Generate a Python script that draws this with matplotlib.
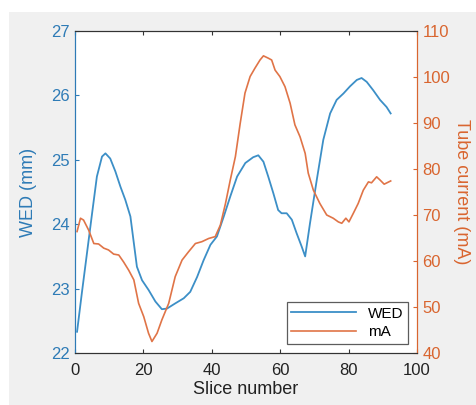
import matplotlib.pyplot as plt
from matplotlib.patches import Rectangle

plt.rcParams['font.family'] = ['Liberation Sans', 'DejaVu Sans']

# water-equivalent diameter per slice
wed_slice = [0.6, 2.0, 3.5, 5.0, 6.4, 7.9, 8.9, 10.3, 11.8, 13.3, 14.7, 16.2, 17.1, 18.1,
             19.6, 21.5, 23.5, 25.4, 26.9, 29.3, 31.8, 33.7, 35.7, 37.6, 39.6, 41.5, 43.5,
             45.4, 47.4, 49.8, 52.1, 53.6, 55.1, 56.5, 58.0, 59.4, 60.4, 61.9, 63.4, 64.8,
             66.3, 67.3, 68.7, 70.7, 72.6, 74.6, 76.5, 78.5, 80.4, 82.4, 83.8, 85.3, 87.2,
             89.2, 91.1, 92.3]
wed_mm = [22.33, 22.93, 23.55, 24.17, 24.74, 25.05, 25.10, 25.02, 24.82, 24.58, 24.38,
          24.12, 23.75, 23.34, 23.13, 22.98, 22.80, 22.68, 22.69, 22.77, 22.85, 22.95,
          23.18, 23.44, 23.68, 23.81, 24.12, 24.43, 24.74, 24.95, 25.04, 25.07, 24.97,
          24.74, 24.48, 24.22, 24.17, 24.17, 24.07, 23.86, 23.65, 23.50, 24.01, 24.69,
          25.31, 25.72, 25.93, 26.03, 26.14, 26.24, 26.27, 26.21, 26.08, 25.93, 25.82,
          25.72]

# tube current per slice
ma_slice = [0.6, 1.6, 2.5, 4.0, 5.5, 6.9, 8.4, 9.8, 11.3, 12.8, 14.2, 15.7, 17.2, 18.6,
            20.1, 21.5, 22.5, 24.0, 25.4, 27.4, 29.3, 31.3, 33.2, 35.2, 37.1, 39.1, 41.0,
            42.5, 44.0, 45.4, 46.9, 48.3, 49.7, 51.2, 52.6, 54.1, 55.1, 56.5, 57.5, 58.5,
            59.9, 61.4, 62.9, 64.3, 65.8, 67.3, 68.2, 69.7, 71.6, 73.6, 75.5, 77.0, 78.0,
            79.2, 80.1, 81.4, 82.8, 84.3, 85.8, 86.7, 88.2, 89.2, 90.4, 92.3]
ma_val = [66.4, 69.3, 68.9, 66.7, 63.8, 63.7, 62.8, 62.4, 61.5, 61.3, 59.8, 58.0, 55.9,
          50.8, 47.9, 44.3, 42.5, 44.3, 47.2, 50.8, 56.6, 60.2, 62.0, 63.8, 64.2, 64.9,
          65.3, 67.8, 72.5, 77.6, 82.7, 89.9, 96.5, 100.1, 101.9, 103.7, 104.6, 104.1,
          103.7, 101.5, 100.1, 97.9, 94.3, 89.6, 87.0, 83.4, 79.1, 75.4, 72.5, 70.0, 69.3,
          68.5, 68.2, 69.3, 68.5, 70.4, 72.5, 75.4, 77.2, 77.0, 78.3, 77.6, 76.7, 77.4]

blue = '#3c8fc7'
orange = '#e07447'
blue_txt = '#2e7bb6'
orange_txt = '#d9652f'

fig = plt.figure(figsize=(4.76, 4.05), dpi=100, facecolor='white')
fig.patches.append(Rectangle((9 / 476, 0), 1, 1 - 12 / 405, transform=fig.transFigure,
                             facecolor='#f0f0f0', edgecolor='none', zorder=-10))

ax = fig.add_axes([75 / 476, 52 / 405, 342 / 476, 322 / 405])
ax.set_facecolor('white')
ax2 = ax.twinx()

l1, = ax.plot(wed_slice, wed_mm, color=blue, lw=1.3, label='WED')
l2, = ax2.plot(ma_slice, ma_val, color=orange, lw=1.2, label='mA')

ax.set_xlim(0, 100)
ax.set_ylim(22, 27)
ax2.set_ylim(40, 110)
ax.set_xticks([0, 20, 40, 60, 80, 100])
ax.set_yticks([22, 23, 24, 25, 26, 27])
ax2.set_yticks(range(40, 111, 10))

ax.tick_params(axis='x', direction='in', length=3, top=True, colors='#333333',
               labelcolor='#222222', labelsize=12, pad=7)
ax.tick_params(axis='y', direction='in', length=3, colors=blue_txt, labelsize=12, pad=4)
ax2.tick_params(axis='y', direction='in', length=3, colors=orange_txt, labelsize=12, pad=4)

for a in (ax, ax2):
    a.spines['top'].set_color('#333333')
    a.spines['bottom'].set_color('#333333')
    a.spines['left'].set_color(blue_txt)
    a.spines['right'].set_color(orange_txt)

ax.set_xlabel('Slice number', fontsize=13, color='#222222', labelpad=2)
ax.set_ylabel('WED (mm)', fontsize=13, color=blue_txt, labelpad=10)
ax2.set_ylabel('Tube current (mA)', fontsize=13, color=orange_txt, rotation=270, labelpad=14)

leg = ax2.legend(handles=[l1, l2], loc='lower right', fontsize=11, frameon=True,
                 fancybox=False, edgecolor='#333333', handlelength=4.2,
                 borderaxespad=0.6, borderpad=0.3, labelspacing=0.3)
leg.get_frame().set_linewidth(0.9)

fig.savefig('out.png', dpi=100, facecolor=fig.get_facecolor())
